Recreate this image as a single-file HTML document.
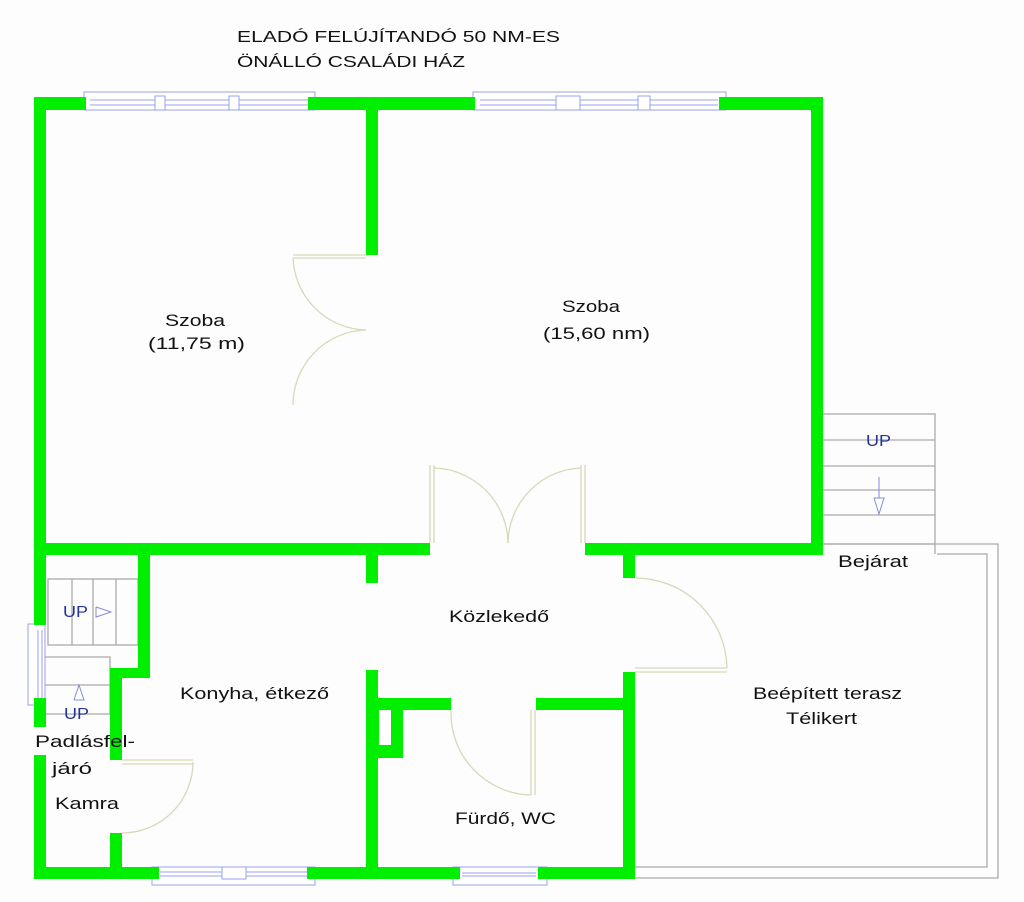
<!DOCTYPE html>
<html><head><meta charset="utf-8"><style>
html,body{margin:0;padding:0;background:#fff;}
svg{display:block;}
text{font-family:"Liberation Sans",sans-serif;fill:#111;}
</style></head><body>
<svg width="1024" height="902" viewBox="0 0 1024 902" xmlns="http://www.w3.org/2000/svg">
<rect width="1024" height="902" fill="#fdfdfd"/>
<text x="237" y="42" font-size="16" textLength="323" lengthAdjust="spacingAndGlyphs">ELADÓ FELÚJÍTANDÓ 50 NM-ES</text>
<text x="237" y="67" font-size="16" textLength="228" lengthAdjust="spacingAndGlyphs">ÖNÁLLÓ CSALÁDI HÁZ</text>

<!-- terrace outline -->
<g fill="none" stroke="#aaa" stroke-width="1.3">
<polyline points="822,544 998,544 998,878 635,878"/>
<polyline points="937,554 987,554 987,867 635,867"/>
<line x1="935" y1="544" x2="935" y2="554"/>
<rect x="822" y="414" width="113" height="130"/>
<line x1="822" y1="440" x2="935" y2="440"/>
<line x1="822" y1="466" x2="935" y2="466"/>
<line x1="822" y1="490" x2="935" y2="490"/>
<line x1="822" y1="515" x2="935" y2="515"/>
<rect x="48" y="579" width="90" height="66"/>
<line x1="72" y1="579" x2="72" y2="645"/>
<line x1="93" y1="579" x2="93" y2="645"/>
<line x1="116" y1="579" x2="116" y2="645"/>
<polyline points="45,657 110,657 110,714 45,714"/>
<line x1="45" y1="685" x2="110" y2="685"/>
</g>
<g fill="#fff" stroke="#8888dd" stroke-width="1">
<polyline points="96,607 96,617 111,612 96,607"/>
<polyline points="74,700 84,700 79,685 74,700"/>
<line x1="879" y1="477" x2="879" y2="498"/>
<polyline points="874,498 884,498 879,514 874,498"/>
</g>
<g font-size="16">
<text x="63" y="617" style="fill:#223399" textLength="25" lengthAdjust="spacingAndGlyphs">UP</text>
<text x="64" y="719" style="fill:#223399" textLength="25" lengthAdjust="spacingAndGlyphs">UP</text>
<text x="866" y="446" style="fill:#223399" textLength="25" lengthAdjust="spacingAndGlyphs">UP</text>
</g>

<!-- windows -->
<g fill="#fff" stroke="#99a0ee" stroke-width="1">
<rect x="84" y="92" width="231" height="18"/>
<line x1="90" y1="100" x2="308" y2="100"/><line x1="90" y1="105" x2="308" y2="105"/>
<rect x="155" y="96" width="10" height="14"/><rect x="229" y="96" width="10" height="14"/>
<rect x="473" y="92" width="253" height="18"/>
<line x1="480" y1="100" x2="718" y2="100"/><line x1="480" y1="105" x2="718" y2="105"/>
<rect x="556" y="96" width="24" height="14"/><rect x="638" y="96" width="12" height="14"/>
<rect x="152" y="867" width="163" height="18"/>
<line x1="160" y1="872" x2="308" y2="872"/><line x1="160" y1="876" x2="308" y2="876"/>
<rect x="222" y="867" width="24" height="12"/>
<rect x="453" y="867" width="94" height="18"/>
<line x1="462" y1="873" x2="536" y2="873"/><line x1="462" y1="876" x2="536" y2="876"/>
<rect x="28" y="624" width="17" height="81"/>
<line x1="38" y1="630" x2="38" y2="699"/><line x1="42" y1="630" x2="42" y2="699"/>
</g>

<!-- walls -->
<g fill="#00ee00">
<rect x="34" y="97" width="52" height="13"/>
<rect x="308" y="97" width="167" height="13"/>
<rect x="719" y="97" width="104" height="13"/>
<rect x="34" y="97" width="12" height="528"/>
<rect x="811" y="97" width="12" height="458"/>
<rect x="366" y="97" width="12" height="158"/>
<rect x="34" y="543" width="396" height="12"/>
<rect x="585" y="543" width="238" height="12"/>
<rect x="366" y="543" width="12" height="40"/>
<rect x="623" y="555" width="12" height="23"/>
<rect x="138" y="555" width="12" height="123"/>
<rect x="110" y="668" width="40" height="10"/>
<rect x="110" y="668" width="12" height="92"/>
<rect x="110" y="833" width="12" height="45"/>
<rect x="34" y="698" width="12" height="29"/>
<rect x="34" y="755" width="12" height="123"/>
<rect x="34" y="867" width="125" height="12"/>
<rect x="307" y="867" width="153" height="12"/>
<rect x="538" y="867" width="97" height="12"/>
<rect x="366" y="670" width="12" height="208"/>
<rect x="623" y="672" width="12" height="206"/>
<rect x="366" y="698" width="85" height="12"/>
<rect x="536" y="698" width="99" height="12"/>
<rect x="378" y="710" width="25" height="48"/>
</g>
<rect x="379" y="710" width="12" height="35" fill="#fff"/>

<!-- doors -->
<g fill="none" stroke="#d8d8b8" stroke-width="1.3">
<path d="M293,255 H366 M293,258 H366"/>
<path d="M293,258 A75,75 0 0 0 366,330"/>
<path d="M293,405 A75,75 0 0 1 366,330"/>
<path d="M430,465 V543 M434,465 V543 M585,465 V543 M581,465 V543"/>
<path d="M434,468 A76,76 0 0 1 508,543"/>
<path d="M581,468 A76,76 0 0 0 508,543"/>
<path d="M635,668 H727 M635,672 H727"/>
<path d="M635,578 A92,92 0 0 1 727,668"/>
<path d="M531,710 V795 M535,710 V795"/>
<path d="M451,710 A82,82 0 0 0 531,795"/>
<path d="M122,760 H193 M122,764 H193"/>
<path d="M193,762 A71,71 0 0 1 122,833"/>
</g>

<g font-size="17">
<text x="165" y="326" textLength="60" lengthAdjust="spacingAndGlyphs">Szoba</text>
<text x="148" y="349" textLength="97" lengthAdjust="spacingAndGlyphs">(11,75 m)</text>
<text x="562" y="312" textLength="58" lengthAdjust="spacingAndGlyphs">Szoba</text>
<text x="543" y="339" textLength="107" lengthAdjust="spacingAndGlyphs">(15,60 nm)</text>
<text x="449" y="622" textLength="100" lengthAdjust="spacingAndGlyphs">Közlekedő</text>
<text x="180" y="699" textLength="149" lengthAdjust="spacingAndGlyphs">Konyha, étkező</text>
<text x="35" y="747" textLength="100" lengthAdjust="spacingAndGlyphs">Padlásfel-</text>
<text x="52" y="774" textLength="40" lengthAdjust="spacingAndGlyphs">járó</text>
<text x="55" y="809" textLength="64" lengthAdjust="spacingAndGlyphs">Kamra</text>
<text x="455" y="824" textLength="101" lengthAdjust="spacingAndGlyphs">Fürdő, WC</text>
<text x="838" y="567" textLength="70" lengthAdjust="spacingAndGlyphs">Bejárat</text>
<text x="753" y="699" textLength="149" lengthAdjust="spacingAndGlyphs">Beépített terasz</text>
<text x="786" y="724" textLength="71" lengthAdjust="spacingAndGlyphs">Télikert</text>
</g>
</svg>
</body></html>
